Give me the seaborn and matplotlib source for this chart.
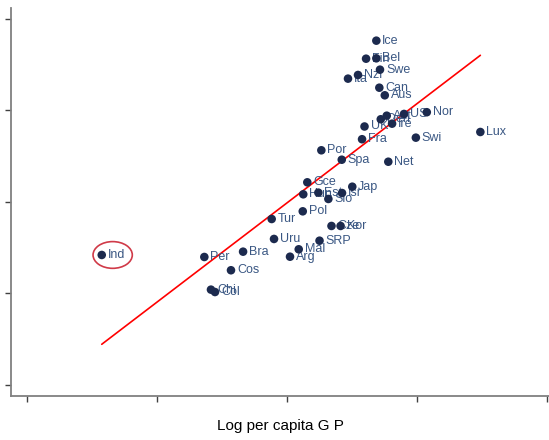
import numpy as np
import pandas as pd
import seaborn as sns
import matplotlib.pyplot as plt
from matplotlib.patches import Ellipse

countries = ["Ice", "Fin", "Bel", "Swe", "Nzl", "Ita", "Can", "Aus", "Den", "Aut",
             "Ire", "US", "Nor", "UK", "Fra", "Swi", "Lux", "Por", "Spa", "Net",
             "Gce", "Hun", "Est", "Slo", "Isr", "Jap", "Pol", "Tur", "Cze", "Kor",
             "Uru", "SRP", "Mal", "Arg", "Bra", "Per", "Cos", "Chi", "Col", "Ind"]
log_gdp = [8.687, 8.608, 8.687, 8.715, 8.546, 8.469, 8.710, 8.752, 8.721, 8.767,
           8.808, 8.900, 9.075, 8.596, 8.577, 8.991, 9.487, 8.264, 8.421, 8.779,
           8.156, 8.125, 8.241, 8.318, 8.423, 8.502, 8.121, 7.882, 8.342, 8.412,
           7.900, 8.250, 8.090, 8.023, 7.662, 7.364, 7.569, 7.415, 7.446, 6.575]
score = [3.763, 3.566, 3.570, 3.446, 3.388, 3.348, 3.249, 3.166, 2.904, 2.943,
         2.856, 2.962, 2.981, 2.825, 2.686, 2.703, 2.765, 2.565, 2.462, 2.440,
         2.215, 2.084, 2.102, 2.033, 2.098, 2.167, 1.898, 1.814, 1.738, 1.738,
         1.596, 1.577, 1.483, 1.402, 1.457, 1.399, 1.254, 1.042, 1.016, 1.421]
fit_x = [6.575, 9.487]
fit_y = [0.445, 3.603]
x_ticks = [6, 7, 8, 9, 10]
y_ticks = [0, 1, 2, 3, 4]
highlight = "Ind"

sns.set_style("ticks")
plt.rcParams['font.family'] = ['Liberation Sans', 'DejaVu Sans']

fig = plt.figure(figsize=(5.49, 4.4), dpi=100)
ax = fig.add_axes([11 / 549, (440 - 395.7) / 440, 538 / 549, (395.7 - 8) / 440])

df = pd.DataFrame({"country": countries, "x": log_gdp, "y": score})
fit = pd.DataFrame({"x": fit_x, "y": fit_y})

sns.lineplot(data=fit, x="x", y="y", color="#ff0000", linewidth=1.2, ax=ax, zorder=2)
sns.scatterplot(data=df, x="x", y="y", s=38, color="#1c2a4e", edgecolor="none",
                ax=ax, zorder=4)
for c, x, y in zip(countries, log_gdp, score):
    ax.annotate(c, (x, y), xytext=(6, 0), textcoords="offset pixels",
                va="center", ha="left", fontsize=9, color="#3a5783", zorder=3)

hx, hy = df.loc[df.country == highlight, ["x", "y"]].values[0]
ax.add_patch(Ellipse((hx + 0.084, hy), width=0.302, height=0.292, fill=False,
                     edgecolor="#d03a48", linewidth=1.2, zorder=5))

ax.set_xlim(5.877, 10.015)
ax.set_ylim(-0.117, 4.12)
ax.set_xticks(x_ticks)
ax.set_yticks(y_ticks)
ax.set_xticklabels([])
ax.set_yticklabels([])
ax.set_ylabel("")
ax.set_xlabel("Log per capita G P", fontsize=11, color="black", labelpad=9)

sns.despine(ax=ax)
for s in ["left", "bottom"]:
    ax.spines[s].set_color("#808080")
    ax.spines[s].set_linewidth(1.3)
ax.tick_params(axis="both", length=4.3, width=1, color="#404040", direction="out")

fig.savefig("out.png", dpi=100)
